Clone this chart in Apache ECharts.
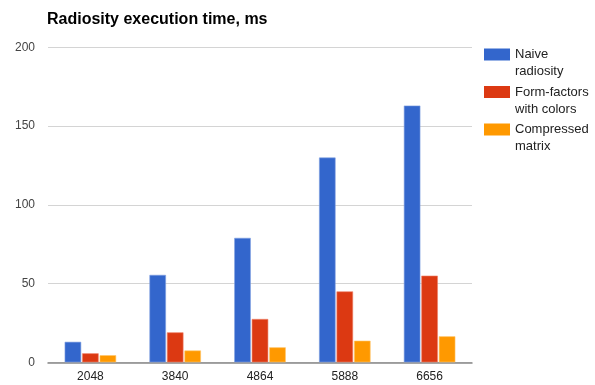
<!DOCTYPE html>
<html>
<head>
<meta charset="utf-8">
<script src="https://cdn.jsdelivr.net/npm/echarts@6/dist/echarts.min.js"></script>
<style>
  html, body { margin: 0; padding: 0; background: #fff; }
  #chart { width: 595px; height: 385px; }
</style>
</head>
<body>
<div id="chart"></div>
<script>
// Scene sizes (number of patches)
const categories = ['2048', '3840', '4864', '5888', '6656'];

// Execution time in milliseconds for each method
const naiveRadiosity = [13, 55.5, 79, 130, 163];
const formFactorsWithColors = [5.7, 19, 27.5, 45, 55];
const compressedMatrix = [4.5, 7.5, 9.5, 13.7, 16.5];

const seriesNames = ['Naive\nradiosity', 'Form-factors\nwith colors', 'Compressed\nmatrix'];
const seriesColors = ['#3366cc', '#dc3912', '#ff9900'];
const seriesBorders = ['#7f9fe0', '#ee8066', '#ffc466'];

const yTicks = [0, 50, 100, 150, 200];

const chart = echarts.init(document.getElementById('chart'), null, { renderer: 'canvas' });

const values = [naiveRadiosity, formFactorsWithColors, compressedMatrix];

chart.setOption({
  animation: false,
  textStyle: { fontFamily: 'Liberation Sans, Arial, sans-serif' },
  title: {
    text: 'Radiosity execution time, ms',
    left: 47,
    top: 12,
    padding: 0,
    textStyle: { fontSize: 16, fontWeight: 'bold', color: '#000' }
  },
  legend: {
    orient: 'vertical',
    left: 484,
    top: 29,
    padding: 0,
    itemWidth: 26,
    itemHeight: 12,
    itemGap: -13.5,
    icon: 'rect',
    data: seriesNames,
    itemStyle: { borderWidth: 0 },
    // leading blank line keeps the first text line level with the colour box
    formatter: name => '\n' + name,
    textStyle: {
      fontSize: 13,
      color: '#222',
      lineHeight: 17
    }
  },
  grid: { left: 48, right: 123, top: 47.3, bottom: 22.7 },
  xAxis: {
    type: 'category',
    data: categories,
    axisLine: { lineStyle: { color: '#888', width: 1.5 } },
    axisTick: { show: false },
    axisLabel: { color: '#222', fontSize: 12, margin: 8 }
  },
  yAxis: {
    type: 'value',
    min: yTicks[0],
    max: yTicks[yTicks.length - 1],
    interval: 50,
    axisLine: { show: false },
    axisTick: { show: false },
    splitLine: { lineStyle: { color: '#d4d4d4' } },
    axisLabel: { color: '#444', fontSize: 12, margin: 13 }
  },
  series: seriesNames.map((name, i) => ({
    name: name,
    type: 'bar',
    data: values[i],
    barWidth: 16.5,
    barGap: '6%',
    itemStyle: {
      color: seriesColors[i],
      borderColor: seriesBorders[i],
      borderWidth: 0.6
    }
  }))
});
</script>
</body>
</html>
